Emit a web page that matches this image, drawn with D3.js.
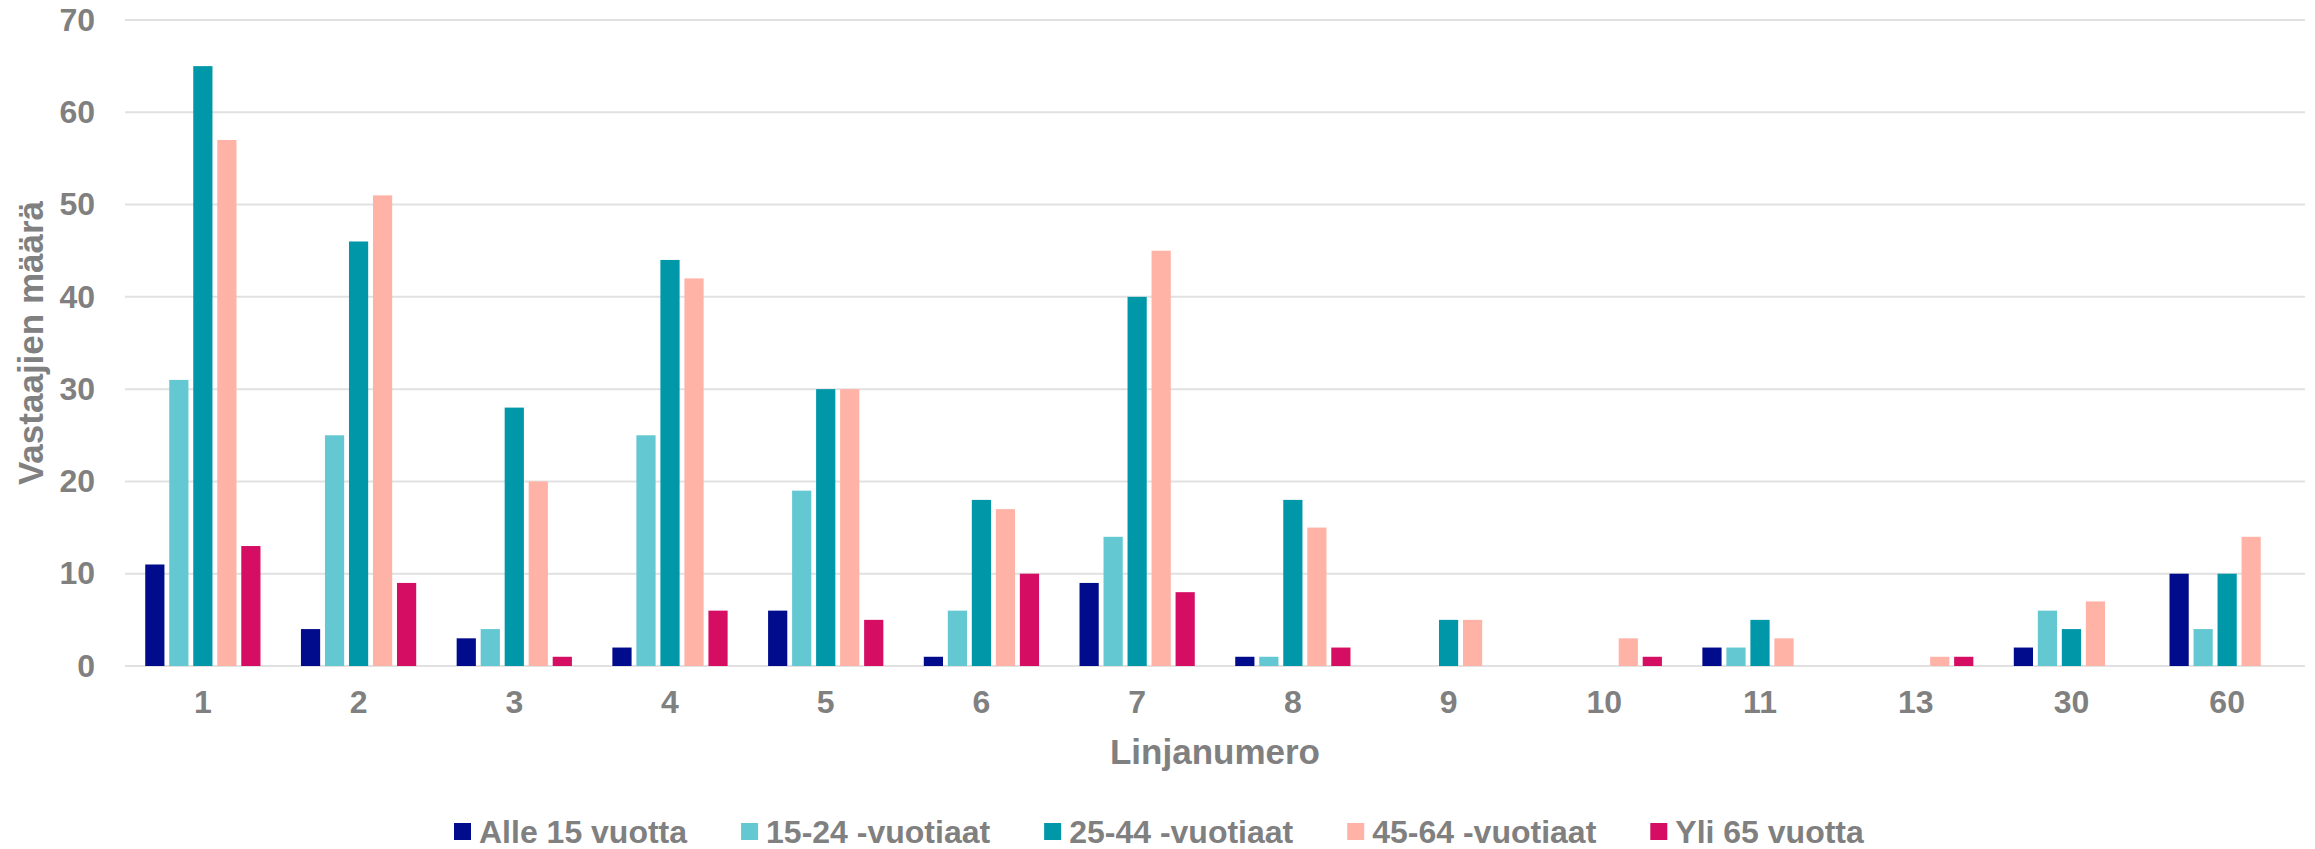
<!DOCTYPE html>
<html>
<head>
<meta charset="utf-8">
<script src="https://cdn.jsdelivr.net/npm/d3@7"></script>
<style>
  body { margin: 0; background: #fff; }
  text { font-family: "Liberation Sans", Arial, sans-serif; font-weight: bold; fill: #808080; }
</style>
</head>
<body>
<div class="graph"></div>
<script>
var categories = ['1', '2', '3', '4', '5', '6', '7', '8', '9', '10', '11', '13', '30', '60'];
var seriesNames = ['Alle 15 vuotta', '15-24 -vuotiaat', '25-44 -vuotiaat', '45-64 -vuotiaat', 'Yli 65 vuotta'];
var alle15 = [11, 4, 3, 2, 6, 1, 9, 1, 0, 0, 2, 0, 2, 10];
var v15_24 = [31, 25, 4, 25, 19, 6, 14, 1, 0, 0, 2, 0, 6, 4];
var v25_44 = [65, 46, 28, 44, 30, 18, 40, 18, 5, 0, 5, 0, 4, 10];
var v45_64 = [57, 51, 20, 42, 30, 17, 45, 15, 5, 3, 3, 1, 7, 14];
var yli65 = [13, 9, 1, 6, 5, 10, 8, 2, 0, 1, 0, 1, 0, 0];
var yTicks = [0, 10, 20, 30, 40, 50, 60, 70];
var colors = ['#000c8c', '#63c8d2', '#0097a9', '#ffb3a7', '#d60e63'];

var seriesValues = [alle15, v15_24, v25_44, v45_64, yli65];

var width = 2315, height = 849;
var margin = { top: 20, right: 10, bottom: 183, left: 125 };

var svg = d3.select('.graph').append('svg')
    .attr('width', width)
    .attr('height', height);

var x0 = d3.scaleBand()
    .domain(categories)
    .range([margin.left, width - margin.right])
    .paddingInner(0.229)
    .paddingOuter(0.1145);

var x1 = d3.scaleBand()
    .domain(seriesNames)
    .range([0, x0.bandwidth()])
    .paddingInner(0.2)
    .paddingOuter(0.1);

var y = d3.scaleLinear()
    .domain([0, 70])
    .range([height - margin.bottom, margin.top]);

// gridlines
svg.append('g')
  .selectAll('line')
  .data(yTicks)
  .enter().append('line')
    .attr('x1', margin.left)
    .attr('x2', width - margin.right)
    .attr('y1', function (d) { return y(d); })
    .attr('y2', function (d) { return y(d); })
    .attr('stroke', '#e1e1e1')
    .attr('stroke-width', 2);

// y axis labels
var yAxis = svg.append('g')
    .attr('transform', 'translate(' + (margin.left - 30) + ',0)')
    .call(d3.axisLeft(y).tickValues(yTicks).tickSize(0).tickPadding(0));
yAxis.select('.domain').remove();
yAxis.selectAll('text')
    .attr('font-size', 32)
    .attr('font-family', null)
    .attr('fill', '#808080');

// x axis labels
var xAxis = svg.append('g')
    .attr('transform', 'translate(0,' + (height - margin.bottom) + ')')
    .call(d3.axisBottom(x0).tickSize(0).tickPadding(24));
xAxis.select('.domain').remove();
xAxis.selectAll('text')
    .attr('font-size', 32)
    .attr('font-family', null)
    .attr('fill', '#808080');

// bars
var groups = svg.append('g')
  .selectAll('g')
  .data(categories)
  .enter().append('g')
    .attr('transform', function (d) { return 'translate(' + x0(d) + ',0)'; });

groups.selectAll('rect')
  .data(function (d, i) {
    return seriesNames.map(function (s, j) { return { series: s, idx: j, value: seriesValues[j][i] }; });
  })
  .enter().append('rect')
    .attr('x', function (d) { return x1(d.series); })
    .attr('width', x1.bandwidth())
    .attr('y', function (d) { return y(d.value); })
    .attr('height', function (d) { return y(0) - y(d.value); })
    .attr('fill', function (d) { return colors[d.idx]; });

// axis titles
svg.append('text')
    .attr('x', (margin.left + width - margin.right) / 2)
    .attr('y', 764)
    .attr('text-anchor', 'middle')
    .attr('font-size', 35)
    .text('Linjanumero');

svg.append('text')
    .attr('transform', 'translate(43,' + ((y(0) + y(70)) / 2) + ') rotate(-90)')
    .attr('text-anchor', 'middle')
    .attr('font-size', 35)
    .text('Vastaajien määrä');

// legend
var legend = svg.append('g');
var lx = 454;
seriesNames.forEach(function (s, i) {
  legend.append('rect')
      .attr('x', lx)
      .attr('y', 823)
      .attr('width', 17)
      .attr('height', 17)
      .attr('fill', colors[i]);
  var t = legend.append('text')
      .attr('x', lx + 25)
      .attr('y', 843)
      .attr('font-size', 32)
      .text(s);
  lx += 25 + t.node().getComputedTextLength() + 54;
});
</script>
</body>
</html>
